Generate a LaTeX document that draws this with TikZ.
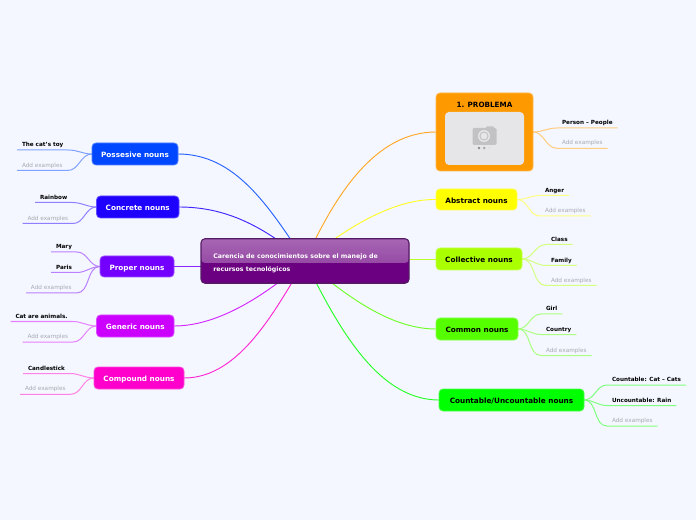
\documentclass[tikz,border=0pt]{standalone}
\usepackage{fontspec}
\setmainfont{DejaVu Sans}
\usetikzlibrary{calc}
\definecolor{bgc}{HTML}{F4F7FF}
\definecolor{cPos}{HTML}{0047FF}
\definecolor{cCon}{HTML}{1E00FF}
\definecolor{cPro}{HTML}{7300FF}
\definecolor{cGen}{HTML}{CC00FF}
\definecolor{cCom}{HTML}{FF00CC}
\definecolor{cPrb}{HTML}{FF9900}
\definecolor{cAbs}{HTML}{FFFF00}
\definecolor{cCol}{HTML}{AAFF00}
\definecolor{cCmn}{HTML}{55FF00}
\definecolor{cCnt}{HTML}{00FF00}
\definecolor{cMid}{HTML}{6B0080}
\definecolor{cMidB}{HTML}{551A66}
\definecolor{cAdd}{HTML}{A8A8B0}
\definecolor{cImg}{HTML}{E6E6E9}
\definecolor{cCam}{HTML}{C2C2C5}
\pgfdeclarelayer{canvas}
\pgfdeclarelayer{back}
\pgfsetlayers{canvas,back,main}
\newdimen\pxu \pxu=.75pt
\tikzset{
  branch/.style={rectangle,rounded corners=3pt,fill=#1,draw=#1!70!white,line width=.6pt,
    font=\fontsize{5.45}{6.5}\selectfont\bfseries,text height=6.4pt,text depth=1pt,inner sep=0pt,outer sep=0pt},
  wtext/.style={text=white},
  mainline/.style={draw=#1!85!white,line width=.7pt},
  leafline/.style={draw=#1!50!white,line width=.75pt},
  leafbase/.style={rectangle,inner xsep=3.75pt,inner ysep=1.8pt,outer sep=0pt,text height=3pt,text depth=.8pt},
  leafb/.style={leafbase,font=\fontsize{4.25}{5}\selectfont\bfseries,text=black},
  leafa/.style={leafbase,font=\fontsize{4.3}{5}\selectfont,text=cAdd}
}
% parent, name, x, y, text, colour, style
\newcommand{\leafL}[7]{%
  \node[#7,anchor=south west] (#2) at (#3,#4) {#5};
  \begin{pgfonlayer}{back}
  \draw[leafline=#6] (#1.west) to[out=180,in=0] (#2.south east) -- (#2.south west);
  \end{pgfonlayer}}
\newcommand{\leafR}[7]{%
  \node[#7,anchor=south west] (#2) at (#3,#4) {#5};
  \begin{pgfonlayer}{back}
  \draw[leafline=#6] (#1.east) to[out=0,in=180] (#2.south west) -- (#2.south east);
  \end{pgfonlayer}}
\begin{document}
\begin{tikzpicture}[x=.75pt,y=-.75pt]
\begin{pgfonlayer}{canvas}
\fill[bgc] (0,0) rectangle (696,520);
\end{pgfonlayer}
\useasboundingbox (0,0) rectangle (696,520);

% central topic
\node[rectangle,rounded corners=3pt,fill=cMid,draw=cMidB,line width=.8pt,inner sep=0pt,outer sep=0pt,
  minimum width=208*\pxu,minimum height=44.5*\pxu,
  path picture={\shade[top color=cMid!60!white,bottom color=cMid!80!white]
    (path picture bounding box.north west) rectangle ($(path picture bounding box.east)+(0,2)$);}]
  (central) at (305,261) {};
\node[anchor=west,inner sep=0pt,text=white,font=\fontsize{4.7}{9.75}\selectfont\bfseries,align=left]
  (centralText) at (213,263.5) {Carencia de conocimientos sobre el manejo de\\recursos tecnológicos};

% main topics
\node[branch=cPos,wtext,minimum width=86*\pxu,minimum height=22*\pxu] (pos) at (135,154) {Possesive nouns};
\node[branch=cCon,wtext,minimum width=82.5*\pxu,minimum height=22*\pxu] (con) at (137.75,207) {Concrete nouns};
\node[branch=cPro,wtext,minimum width=74*\pxu,minimum height=21*\pxu] (pro) at (137,266.5) {Proper nouns};
\node[branch=cGen,wtext,minimum width=77.5*\pxu,minimum height=22*\pxu] (gen) at (135.25,326) {Generic nouns};
\node[branch=cCom,wtext,minimum width=90*\pxu,minimum height=22*\pxu] (com) at (139,378) {Compound nouns};
\node[branch=cAbs,minimum width=81*\pxu,minimum height=21*\pxu] (abs) at (476.5,199.5) {Abstract nouns};
\node[branch=cCol,minimum width=86*\pxu,minimum height=22*\pxu] (col) at (479,259) {Collective nouns};
\node[branch=cCmn,minimum width=82*\pxu,minimum height=22*\pxu] (cmn) at (477,329) {Common nouns};
\node[branch=cCnt,minimum width=145*\pxu,minimum height=22*\pxu] (cnt) at (511.5,400) {Countable/Uncountable nouns};
\node[rectangle,rounded corners=3pt,fill=cPrb,draw=cPrb!70!white,line width=.6pt,inner sep=0pt,outer sep=0pt,
  minimum width=97*\pxu,minimum height=78*\pxu] (prb) at (484.5,132) {};
\node[font=\fontsize{5.4}{6}\selectfont\bfseries,inner sep=0pt] (prbText) at (484.5,104.5) {1. PROBLEMA};

% picture placeholder inside topic
\fill[rounded corners=3pt,fill=cImg] (445,112) rectangle (524,165);
\fill[rounded corners=1pt,fill=cCam] (472.5,128) rectangle (496.5,145);
\fill[rounded corners=.7pt,fill=cCam] (486,126.5) rectangle (494,130);
\fill[cImg] (484,136) circle (6);
\fill[cCam] (484,136) circle (4.6);
\fill[cImg] (484,136) circle (3.4);
\fill[black!45] (479,148) circle (1.3);
\fill[black!35] (484.2,148) circle (1.3);
\fill[black!12] (489.4,148) circle (1.3);

% connectors from the central topic
\begin{pgfonlayer}{back}
\draw[mainline=cPos] (pos.east) .. controls (235,154) and (268,205) .. (central.center);
\draw[mainline=cCon] (con.east) .. controls (225,207) and (262,225) .. (central.center);
\draw[mainline=cPro] (pro.east) -- (pro.east -| central.center);
\draw[mainline=cGen] (gen.east) .. controls (215,326) and (260,300) .. (central.center);
\draw[mainline=cCom] (com.east) .. controls (240,378) and (275,310) .. (central.center);
\draw[mainline=cPrb] (prb.west) .. controls (375,132) and (335,195) .. (central.center);
\draw[mainline=cAbs] (abs.west) .. controls (395,199) and (350,225) .. (central.center);
\draw[mainline=cCol] (col.west) -- (col.west -| central.center);
\draw[mainline=cCmn] (cmn.west) .. controls (390,329) and (345,295) .. (central.center);
\draw[mainline=cCnt] (cnt.west) .. controls (375,400) and (335,320) .. (central.center);
\end{pgfonlayer}

% leaves, left
\leafL{pos}{l1}{17}{150}{The cat's toy}{cPos}{leafb}
\leafL{pos}{l2}{17}{170.5}{Add examples}{cPos}{leafa}
\leafL{con}{l3}{35}{202.5}{Rainbow}{cCon}{leafb}
\leafL{con}{l4}{22.5}{223.5}{Add examples}{cCon}{leafa}
\leafL{pro}{l5}{51}{252}{Mary}{cPro}{leafb}
\leafL{pro}{l6}{51}{272.5}{Paris}{cPro}{leafb}
\leafL{pro}{l7}{26}{293}{Add examples}{cPro}{leafa}
\leafL{gen}{l8}{10.5}{321.5}{Cat are animals.}{cGen}{leafb}
\leafL{gen}{l9}{22.5}{342}{Add examples}{cGen}{leafa}
\leafL{com}{l10}{23}{373.5}{Candlestick}{cCom}{leafb}
\leafL{com}{l11}{20}{394.3}{Add examples}{cCom}{leafa}
% leaves, right
\leafR{prb}{r1}{557}{128}{Person – People}{cPrb}{leafb}
\leafR{prb}{r2}{557}{148.3}{Add examples}{cPrb}{leafa}
\leafR{abs}{r3}{540}{195.5}{Anger}{cAbs}{leafb}
\leafR{abs}{r4}{540}{216}{Add examples}{cAbs}{leafa}
\leafR{col}{r5}{546}{244.5}{Class}{cCol}{leafb}
\leafR{col}{r6}{546}{265.5}{Family}{cCol}{leafb}
\leafR{col}{r7}{546}{285.5}{Add examples}{cCol}{leafa}
\leafR{cmn}{r8}{541}{314}{Girl}{cCmn}{leafb}
\leafR{cmn}{r9}{541}{334.5}{Country}{cCmn}{leafb}
\leafR{cmn}{r10}{541}{355.5}{Add examples}{cCmn}{leafa}
\leafR{cnt}{r11}{607}{385}{Countable: Cat – Cats}{cCnt}{leafb}
\leafR{cnt}{r12}{607}{405.5}{Uncountable: Rain}{cCnt}{leafb}
\leafR{cnt}{r13}{607}{426}{Add examples}{cCnt}{leafa}
\end{tikzpicture}
\end{document}
